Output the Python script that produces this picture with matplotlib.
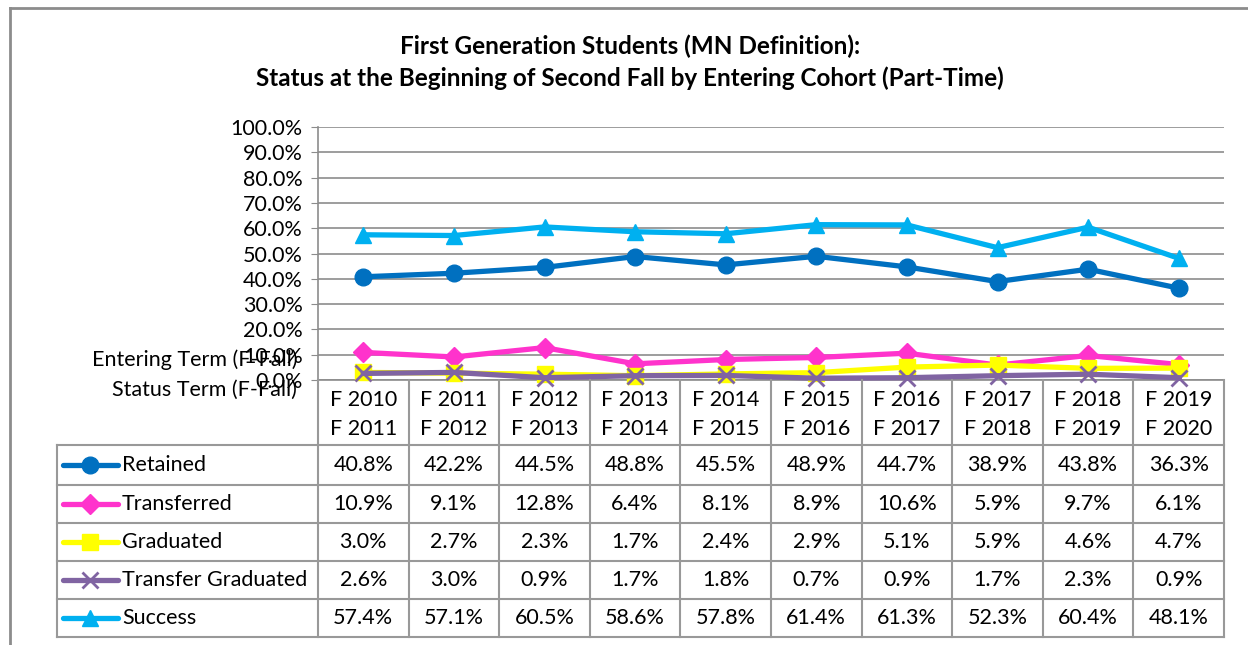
import matplotlib.pyplot as plt
from matplotlib.lines import Line2D

# dados
entrada = ["F 2010", "F 2011", "F 2012", "F 2013", "F 2014", "F 2015", "F 2016", "F 2017", "F 2018", "F 2019"]
status = ["F 2011", "F 2012", "F 2013", "F 2014", "F 2015", "F 2016", "F 2017", "F 2018", "F 2019", "F 2020"]
series = ["Retained", "Transferred", "Graduated", "Transfer Graduated", "Success"]
retained = [40.8, 42.2, 44.5, 48.8, 45.5, 48.9, 44.7, 38.9, 43.8, 36.3]
transferred = [10.9, 9.1, 12.8, 6.4, 8.1, 8.9, 10.6, 5.9, 9.7, 6.1]
graduated = [3.0, 2.7, 2.3, 1.7, 2.4, 2.9, 5.1, 5.9, 4.6, 4.7]
transfer_grad = [2.6, 3.0, 0.9, 1.7, 1.8, 0.7, 0.9, 1.7, 2.3, 0.9]
success = [57.4, 57.1, 60.5, 58.6, 57.8, 61.4, 61.3, 52.3, 60.4, 48.1]

valores = [retained, transferred, graduated, transfer_grad, success]
cores = ["#0070C0", "#FF33CC", "#FFFF00", "#8064A2", "#00B0F0"]
marcadores = ["o", "D", "s", "x", "^"]
tam = [12, 10, 12, 12, 12]

plt.rcParams["font.family"] = ["Lato", "DejaVu Sans"]
fs = 15.5

W, H = 1248, 645
fig = plt.figure(figsize=(W / 100, H / 100), dpi=100)

def fx(x):
    return x / W

def fy(y):
    return 1 - y / H

def linha(x0, y0, x1, y1, cor="#999999", lw=1.5):
    fig.add_artist(Line2D([fx(x0), fx(x1)], [fy(y0), fy(y1)], color=cor, lw=lw))

# moldura externa
linha(10, 8, W, 8, "#8c8c8c", 2)
linha(10, 8, 10, H, "#8c8c8c", 2)

# area do grafico
x0, x1, ytop, ybot = 318, 1224, 127, 380
ax = fig.add_axes([fx(x0), fy(ybot), fx(x1 - x0), (ybot - ytop) / H])
ax.set_xlim(0, 10)
ax.set_ylim(0, 100)
ax.set_yticks(range(0, 101, 10))
ax.set_yticklabels([f"{v:.1f}%" for v in range(0, 101, 10)], fontsize=fs)
ax.set_xticks([])
ax.grid(axis="y", color="#8c8c8c", lw=1.2)
ax.set_axisbelow(True)
for s in ["top", "right"]:
    ax.spines[s].set_visible(False)
ax.spines["left"].set_color("#8c8c8c")
ax.spines["bottom"].set_color("#8c8c8c")
ax.spines["left"].set_linewidth(1.2)
ax.spines["bottom"].set_linewidth(1.2)
ax.tick_params(axis="y", length=5, color="#8c8c8c", pad=6)

xs = [i + 0.5 for i in range(10)]
ordem = [2, 1, 3, 0, 4]
for k in ordem:
    ax.plot(xs, valores[k], color=cores[k], lw=3.8, marker=marcadores[k],
            markersize=tam[k], markeredgewidth=2 if marcadores[k] == "x" else 1,
            markeredgecolor=cores[k], clip_on=False, zorder=3 + k)

# titulo
fig.text(fx(630), fy(46), "First Generation Students (MN Definition):", ha="center", va="center",
         fontsize=17.5, fontweight="bold")
fig.text(fx(630), fy(78), "Status at the Beginning of Second Fall by Entering Cohort (Part-Time)",
         ha="center", va="center", fontsize=17.5, fontweight="bold")

# rotulos do eixo
fig.text(fx(297), fy(360), "Entering Term (F-Fall)", ha="right", va="center", fontsize=fs)
fig.text(fx(297), fy(390), "Status Term (F-Fall)", ha="right", va="center", fontsize=fs)

# tabela
larg = (x1 - x0) / 10
bordas = [x0 + i * larg for i in range(11)]
linhas_y = [445, 485, 523, 561, 599, 637]

for b in bordas:
    linha(b, ybot, b, 637)
linha(57, 445, 57, 637)
for y in linhas_y:
    linha(57, y, x1, y)

for i in range(10):
    cx = bordas[i] + larg / 2
    fig.text(fx(cx), fy(400), entrada[i], ha="center", va="center", fontsize=fs)
    fig.text(fx(cx), fy(429), status[i], ha="center", va="center", fontsize=fs)

for r in range(5):
    cy = (linhas_y[r] + linhas_y[r + 1]) / 2
    fig.add_artist(Line2D([fx(63), fx(118)], [fy(cy), fy(cy)], color=cores[r], lw=3.8,
                          solid_capstyle="round"))
    fig.add_artist(Line2D([fx(90)], [fy(cy)], color=cores[r], marker=marcadores[r],
                          markersize=tam[r], markeredgewidth=2 if marcadores[r] == "x" else 1,
                          markeredgecolor=cores[r], lw=0))
    fig.text(fx(122), fy(cy), series[r], ha="left", va="center", fontsize=fs)
    for i in range(10):
        cx = bordas[i] + larg / 2
        fig.text(fx(cx), fy(cy), f"{valores[r][i]:.1f}%", ha="center", va="center", fontsize=fs)

fig.savefig("out.png", dpi=100)
